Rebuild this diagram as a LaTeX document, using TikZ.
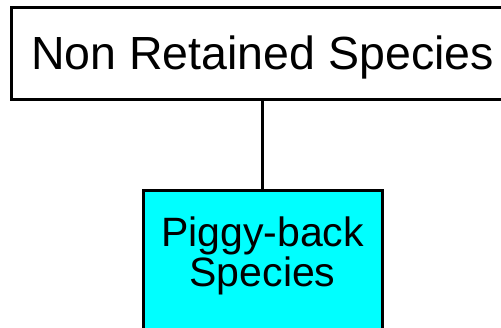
\documentclass[tikz,border=0pt]{standalone}
\usepackage{fontspec}
\setmainfont{Liberation Sans}
\definecolor{boxcyan}{RGB}{0,255,255}

\tikzset{
  catbox/.style={draw=black, line width=3pt, inner sep=0pt},
}

\begin{document}
\begin{tikzpicture}[x=1pt,y=-1pt]
    \clip (0,0) rectangle (501,327);
    \node[catbox, minimum width=502pt, minimum height=92pt, text depth=0pt, font=\fontsize{46.5}{52}\selectfont] (NR) at (262.5,53) {Non Retained Species};
    \node[catbox, fill=boxcyan, anchor=north, text width=239pt, align=center, text height=56pt, text depth=100pt, font=\fontsize{41}{40}\selectfont] (PB) at (262.5,189) {Piggy-back\\Species};

    \draw[line width=3pt] (NR) -- (PB);
\end{tikzpicture}
\end{document}
